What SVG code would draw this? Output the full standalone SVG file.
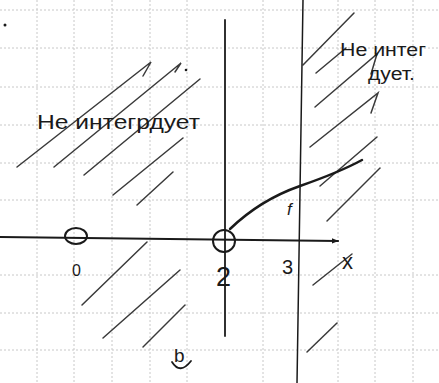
<svg xmlns="http://www.w3.org/2000/svg" width="439" height="383" viewBox="0 0 439 383">
<style>
.grid{stroke:#c8c8c8;stroke-width:1;stroke-dasharray:2 2;fill:none}
.hatch{stroke:#3a3a3a;stroke-width:1.5;fill:none;stroke-linecap:round}
.ink{stroke:#1a1a1a;fill:none;stroke-linecap:round}
.t{font-family:"Liberation Sans","DejaVu Sans",sans-serif;fill:#1a1a1a}
</style>
<defs>
<marker id="arr" viewBox="0 0 10 10" refX="9" refY="5" markerWidth="7" markerHeight="7" orient="auto" markerUnits="userSpaceOnUse">
<path d="M0,1 L10,5 L0,9 Z" fill="#1a1a1a"/>
</marker>
</defs>
<rect width="439" height="383" fill="#ffffff"/>
<g id="grid" class="grid">
<path d="M37,0V383M74,0V383M112,0V383M150,0V383M187,0V383M263,0V383M338,0V383M375,0V383M413,0V383"/>
<path d="M0,10H439M0,48H439M0,87H439M0,125H439M0,163H439M0,200H439M0,275H439M0,313H439M0,350H439"/>
</g>
<g id="hatching" class="hatch">
<path d="M17,167L151,62L143,76"/>
<path d="M54,167L181,63L175,72"/>
<path d="M84,175L200,79"/>
<path d="M113,195L183,138"/>
<path d="M137,205L173,172"/>
<path d="M82,305L147,242"/>
<path d="M103,338L180,270"/>
<path d="M143,347L185,305"/>
<path d="M303,65L354,13"/>
<path d="M316,73L346,48"/>
<path d="M315,107L377,54L371,74"/>
<path d="M310,147L378,93L371,113"/>
<path d="M320,186L377,137"/>
<path d="M327,221L380,168"/>
<path d="M313,285L352,254"/>
<path d="M307,352L337,323"/>
</g>
<g id="axes" class="ink">
<path d="M225,20V336" stroke-width="1.8"/>
<path d="M303,0L297,383" stroke-width="1.5"/>
<path d="M0,237L338,241" stroke-width="2.2" marker-end="url(#arr)"/>
</g>
<g id="point-0"><ellipse class="ink" cx="76" cy="236" rx="11" ry="8" stroke-width="2"/></g>
<g id="point-2"><circle class="ink" cx="224" cy="241" r="11" stroke-width="2"/></g>
<g id="curve-f"><path class="ink" d="M230,229Q260,200 300,186T362,160" stroke-width="2.5"/></g>
<g id="labels">
<text class="t" x="37" y="129" font-size="21" textLength="163" lengthAdjust="spacingAndGlyphs">Не интегрдует</text>
<text class="t" x="340" y="56" font-size="18" textLength="86" lengthAdjust="spacingAndGlyphs">Не интег</text>
<text class="t" x="368" y="80" font-size="18" textLength="47" lengthAdjust="spacingAndGlyphs">дует.</text>
<text class="t" x="72" y="276" font-size="16">0</text>
<text class="t" x="216" y="286" font-size="27">2</text>
<text class="t" x="282" y="274" font-size="20">3</text>
<text class="t" x="287" y="215" font-size="17" font-style="italic">f</text>
<text class="t" x="342" y="269" font-size="22">x</text>
<text class="t" x="174" y="362" font-size="19">b</text>
<path class="ink" d="M172,362Q180,375 191,361" stroke-width="1.8"/>
<circle cx="5" cy="25" r="1.5" fill="#1a1a1a"/>
<circle cx="186" cy="70" r="1.3" fill="#1a1a1a"/>
</g>
</svg>
